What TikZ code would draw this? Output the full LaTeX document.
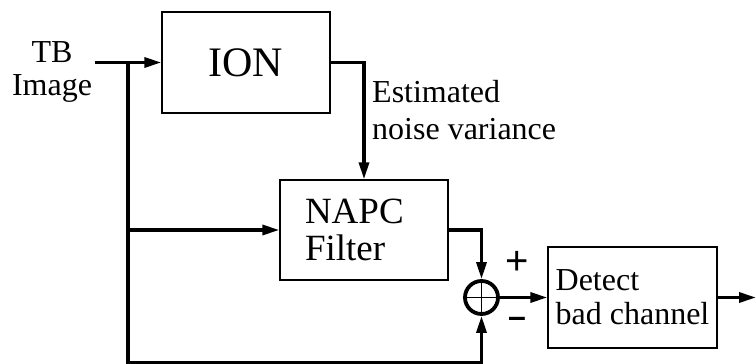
\documentclass[tikz,border=0pt]{standalone}
\usepackage{fontspec}
\setmainfont{Liberation Serif}
\setsansfont{Liberation Sans}
\usetikzlibrary{arrows.meta, positioning, calc}
\tikzstyle{block} = [rectangle, draw=black, line width=1.4pt, minimum width=168pt, minimum height=100pt, align=center, font=\fontsize{32}{33}\selectfont]
\tikzstyle{sum} = [circle, draw=black, line width=3.8pt, minimum size=33pt, inner sep=0pt]
\tikzstyle{arrow} = [line width=3.3pt, -{Triangle[length=17pt, width=10pt]}]
\tikzstyle{lbl} = [inner sep=0pt, align=left, font=\fontsize{32}{37}\selectfont]
\tikzstyle{sign} = [inner sep=0pt, font=\sffamily\fontsize{40}{40}\selectfont]

\begin{document}
\begin{tikzpicture}[x=1pt, y=1pt]
  \useasboundingbox (0,0) rectangle (756,364);
  % blocks
  \node[block, font=\fontsize{42}{44}\selectfont, minimum height=101pt] (ion) at (246,301.5) {ION};
  \node[block, align=left, text width=118pt, inner xsep=25pt, font=\fontsize{37}{37}\selectfont] (napc) at (364,134) {NAPC\\Filter};
  \node[block, align=left, inner xsep=4pt, minimum width=169pt, minimum height=101pt, font=\fontsize{32}{34}\selectfont] (det) at (632.5,66.5) {Detect\\bad channel};
  \node[sum] (sum) at (481.5,66.5) {};
  \draw[line width=1.3pt] (sum.north) -- (sum.south) (sum.west) -- (sum.east);
  % labels
  \node[lbl, align=center, font=\fontsize{32}{33}\selectfont] (src) at (52,292) {TB\\Image};
  \node[lbl, anchor=west] (est) at (372,253.5) {Estimated\\noise variance};
  \node[sign] (plus) at (517,101) {+};
  \node[sign, font=\sffamily\bfseries\fontsize{32}{32}\selectfont] (minus) at (517,42) {–};
  \coordinate (in) at (95,301.5);
  \coordinate (split) at (128,301.5);
  \coordinate (bot) at (128,1.7);
  \coordinate (out) at (756,66.5);
  % connectors
  \draw[arrow] (in) -- (ion);
  \draw[arrow] (split) |- (napc);
  \draw[arrow] (split) -- (bot) -| (sum);
  \draw[arrow] (ion) -| (napc);
  \draw[arrow] (napc) -| (sum);
  \draw[arrow] (sum) -- (det);
  \draw[arrow] (det) -- (out);
\end{tikzpicture}
\end{document}
